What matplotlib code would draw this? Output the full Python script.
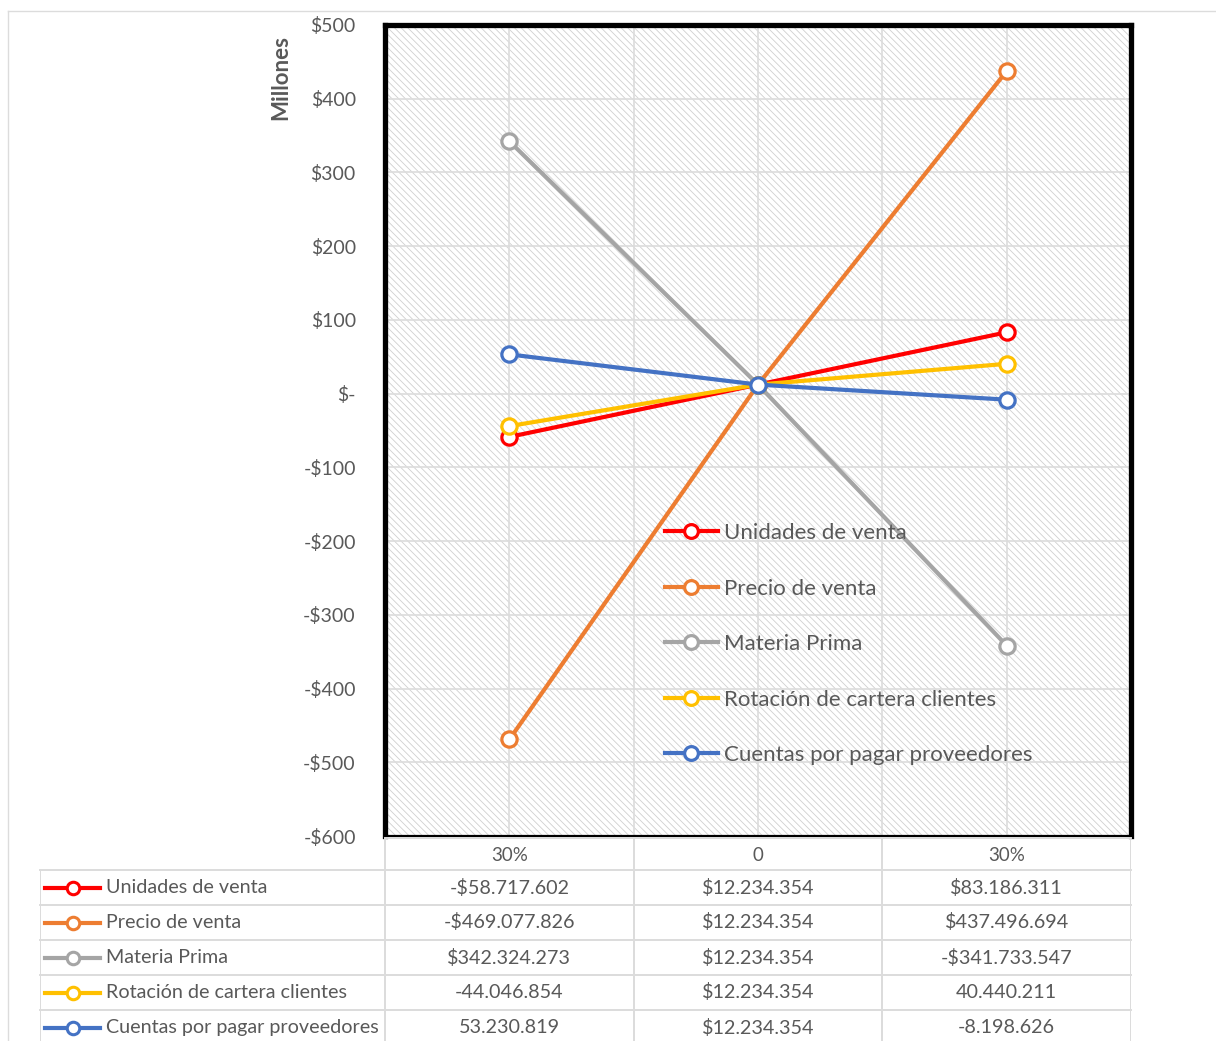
import matplotlib
matplotlib.use("Agg")
import matplotlib.pyplot as plt
from matplotlib.patches import Rectangle
from matplotlib.lines import Line2D
from matplotlib.ticker import FuncFormatter, FixedLocator

plt.rcParams['font.family'] = ['Lato', 'DejaVu Sans']
plt.rcParams['hatch.linewidth'] = 0.6

# data (millones)
categories = ["30%", "0", "30%"]
series_names = ["Unidades de venta", "Precio de venta", "Materia Prima",
                "Rotación de cartera clientes", "Cuentas por pagar proveedores"]
unidades = [-58.717602, 12.234354, 83.186311]
precio = [-469.077826, 12.234354, 437.496694]
materia = [342.324273, 12.234354, -341.733547]
rotacion = [-44.046854, 12.234354, 40.440211]
cuentas = [53.230819, 12.234354, -8.198626]
series_values = [unidades, precio, materia, rotacion, cuentas]
table_text = [
    ["-$58.717.602", "$12.234.354", "$83.186.311"],
    ["-$469.077.826", "$12.234.354", "$437.496.694"],
    ["$342.324.273", "$12.234.354", "-$341.733.547"],
    ["-44.046.854", "$12.234.354", "40.440.211"],
    ["53.230.819", "$12.234.354", "-8.198.626"],
]
colors = ["#FF0000", "#ED7D31", "#A5A5A5", "#FFC000", "#4472C4"]

W, H = 1216, 1041
txt = "#595959"
grid_c = "#dcdcdc"

fig = plt.figure(figsize=(W / 100, H / 100), dpi=100)

# outer frame (chart area border)
fig.add_artist(Line2D([8 / W, 8 / W], [0, 1 - 11 / H], transform=fig.transFigure, color=grid_c, lw=1))
fig.add_artist(Line2D([8 / W, 1], [1 - 11 / H, 1 - 11 / H], transform=fig.transFigure, color=grid_c, lw=1))

# main plot area
ax = fig.add_axes([385 / W, 1 - 836 / H, 746 / W, 811 / H])
ax.set_xlim(-0.5, 2.5)
ax.set_ylim(-600, 500)
ax.add_patch(Rectangle((0, 0), 1, 1, transform=ax.transAxes, facecolor="white",
                       edgecolor="#cfcfcf", hatch="\\\\\\\\\\", lw=0, zorder=0.2))
ax.set_axisbelow(True)

ax.yaxis.set_major_locator(FixedLocator(range(-600, 501, 100)))
def money(v, pos):
    v = int(round(v))
    if v == 0:
        return "$-"
    return "$%d" % v if v > 0 else "-$%d" % abs(v)
ax.yaxis.set_major_formatter(FuncFormatter(money))
ax.tick_params(axis='y', length=0, pad=21, labelsize=14, labelcolor=txt)
ax.set_xticks([0, 1, 2])
ax.set_xticks([0.5, 1.5], minor=True)
ax.tick_params(axis='x', which='both', length=0, labelbottom=False)
ax.grid(True, which='both', color=grid_c, lw=1.2)

for s in ['left', 'top', 'right']:
    ax.spines[s].set_linewidth(3.8)
    ax.spines[s].set_color("black")
ax.spines['bottom'].set_linewidth(1.6)
ax.spines['bottom'].set_color("black")

x = range(len(categories))
handles = []
for name, vals, c in zip(series_names, series_values, colors):
    h, = ax.plot(x, vals, color=c, lw=3, marker='o', ms=11, mfc='white', mec=c, mew=2.3,
                 label=name, zorder=3)
    handles.append(h)

leg = ax.legend(handles=handles, loc='upper left', bbox_to_anchor=(0.375, 0.386),
                frameon=False, fontsize=16, labelspacing=1.6, handlelength=2.4,
                handletextpad=0.27, borderpad=0, borderaxespad=0, markerscale=0.9)
for t in leg.get_texts():
    t.set_color(txt)

fig.text(281 / W, 1 - 77 / H, "Millones", rotation=90, ha='center', va='center',
         fontsize=16, fontweight='bold', color=txt)

# data table below
col_w = 248.67
label_w = 345 / col_w
tx = fig.add_axes([40 / W, 0, (1131 - 40) / W, (1041 - 838) / H])
top = -32 / 35
tx.set_xlim(-0.5 - label_w, 2.5)
tx.set_ylim(top + 203 / 35, top)
tx.axis('off')
left = -0.5 - label_w

for yy in range(0, 5):
    tx.plot([left, 2.5], [yy, yy], color=grid_c, lw=1.4, clip_on=False)
tx.plot([-0.5, 2.5], [top, top], color=grid_c, lw=1.4, clip_on=False)
tx.plot([left, left], [0, 6], color=grid_c, lw=1.4, clip_on=True)
for xx in [-0.5, 0.5, 1.5, 2.5]:
    tx.plot([xx, xx], [top, 6], color=grid_c, lw=1.4, clip_on=True)

for i, cat in enumerate(categories):
    tx.text(i, top / 2 + 0.05, cat, ha='center', va='center', fontsize=13.5, color=txt)

for r, (name, c) in enumerate(zip(series_names, colors)):
    yc = r + 0.5
    tx.plot([left + 5 / col_w, left + 60 / col_w], [yc, yc], color=c, lw=3)
    tx.plot([left + 33 / col_w], [yc], marker='o', ms=9, mfc='white', mec=c, mew=2.2, color=c)
    tx.text(left + 66 / col_w, yc, name, ha='left', va='center', fontsize=14.2, color=txt)
    for i in range(len(categories)):
        tx.text(i, yc, table_text[r][i], ha='center', va='center', fontsize=14.2, color=txt)

fig.savefig("out.png", dpi=100)
